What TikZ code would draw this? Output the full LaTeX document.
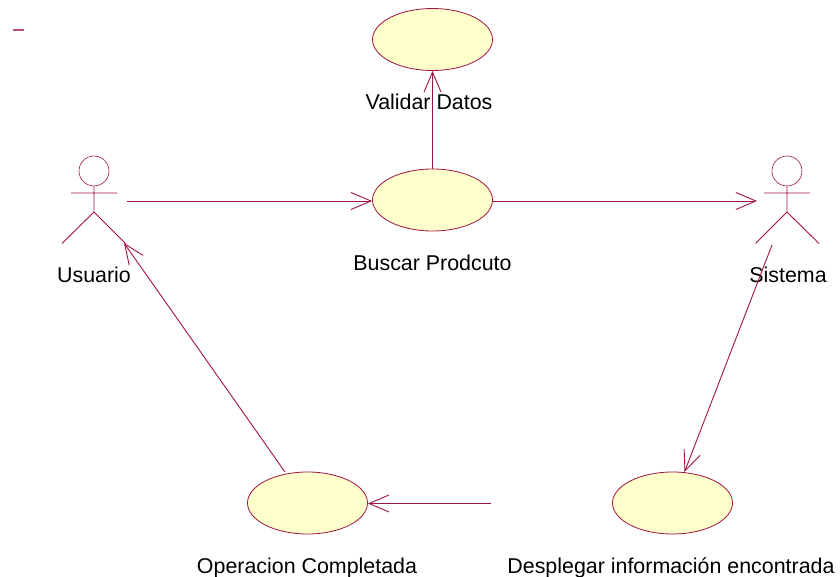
\documentclass[tikz,border=0pt]{standalone}
\usepackage{fontspec}
\setmainfont{Liberation Sans}
\usetikzlibrary{shapes.geometric,arrows.meta}
\definecolor{umlline}{HTML}{A01444}
\definecolor{umlfill}{HTML}{FFFFCC}
\tikzset{
 x=1pt,y=-1pt,
 usecase/.style={ellipse,draw=umlline,fill=umlfill,line width=0.8pt,minimum width=120pt,minimum height=62pt,inner sep=0pt},
 lbl/.style={font=\fontsize{21.4pt}{24pt}\selectfont,text=black,inner sep=0pt,anchor=center},
 conn/.style={draw=umlline,line width=0.9pt,-{Straight Barb[length=20pt,width=17pt,line width=0.9pt]}},
 stick/.style={draw=umlline,line width=0.9pt},
 head/.style={circle,draw=umlline,line width=0.6pt,minimum size=30pt,inner sep=0pt}
}
\begin{document}
\begin{tikzpicture}
\useasboundingbox (0,0) rectangle (840,577);
\fill[white] (0,0) rectangle (840,577);
\draw[stick,line width=1.2pt,draw=umlline!75] (13,30) -- (24,30);

\node[usecase] (validar) at (432.5,39.5) {};
\node[usecase] (buscar) at (432.5,200) {};
\node[usecase] (operacion) at (307.5,503) {};
\node[usecase] (desplegar) at (672.5,503) {};

% Usuario actor
\node[head] (uhead) at (94,171) {};
\coordinate (uhip) at (94,212);
\coordinate (uarmL) at (71,193);
\coordinate (uarmR) at (117,193);
\coordinate (ulegL) at (62,243.5);
\coordinate (ulegR) at (125.5,243.5);
\draw[stick] (uhead.south) -- (uhip) (uarmL) -- (uarmR) (ulegL) -- (uhip) -- (ulegR);

% Sistema actor
\node[head] (shead) at (787,171) {};
\coordinate (ship) at (787,212);
\coordinate (sarmL) at (764,193);
\coordinate (sarmR) at (810,193);
\coordinate (slegL) at (755.5,243.5);
\coordinate (slegR) at (819,243.5);
\draw[stick] (shead.south) -- (ship) (sarmL) -- (sarmR) (slegL) -- (ship) -- (slegR);

% Labels
\node[lbl] (lvalidar) at (429,102) {Validar Datos};
\node[lbl] (lbuscar) at (432.5,263) {Buscar Prodcuto};
\node[lbl] (lusuario) at (94,275) {Usuario};
\node[lbl] (lsistema) at (788,275) {Sistema};
\node[lbl] (loperacion) at (307,567.5) {Operacion Completada};
\node[lbl] (ldesplegar) at (671,567.5) {Desplegar información encontrada};

% Connectors
\coordinate (ufrom) at (127,201);
\coordinate (sto) at (757,201);
\coordinate (sfrom) at (772,245);
\coordinate (dto) at (684.5,472);
\coordinate (dfrom) at (491,503.5);
\coordinate (ofrom) at (285,472);
\coordinate (uto) at (124,243);
\draw[conn] (buscar.north) -- (validar.south);
\draw[conn] (ufrom) -- (buscar.west |- ufrom);
\draw[conn] (buscar.east |- sto) -- (sto);
\draw[conn] (sfrom) -- (dto);
\draw[conn] (dfrom) -- (operacion.east |- dfrom);
\draw[conn] (ofrom) -- (uto);
\end{tikzpicture}
\end{document}
